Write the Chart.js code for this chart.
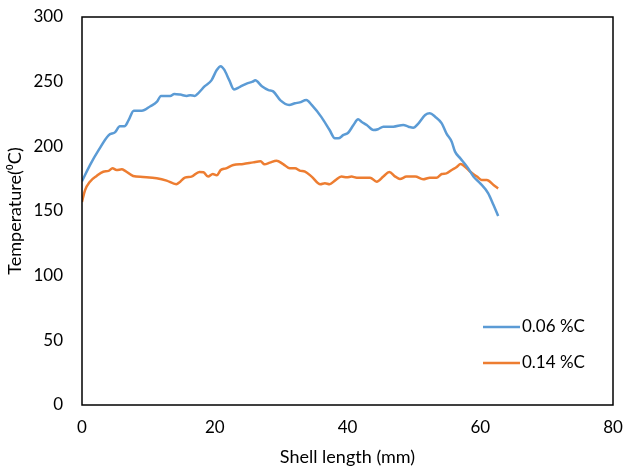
<!DOCTYPE html>
<html>
<head>
<meta charset="utf-8">
<script src="https://cdn.jsdelivr.net/npm/chart.js@4"></script>
<style>
  html, body { margin: 0; padding: 0; background: #fff; }
  #wrap { width: 627px; height: 472px; position: relative; }
</style>
</head>
<body>
<div id="wrap"><canvas id="myChart"></canvas></div>
<script>
// shell length (mm) and temperature (degC)
const lowCarbonX = [0, 1.2, 2.5, 4.0, 5.0, 5.7, 6.4, 7.0, 7.8, 9.0, 10.3, 11.3, 11.9, 13.3, 13.9, 14.8, 15.8, 16.3, 17.0, 17.5,
  18.5, 19.5, 20.3, 20.9, 21.4, 22.2, 22.9, 23.8, 24.8, 25.7, 26.1, 27.1, 28.1, 28.8, 29.9, 31.2, 32.1, 32.8, 33.8, 34.6,
  36.1, 37.3, 38.1, 38.6, 39.4, 40.1, 40.9, 41.6, 42.1, 42.9, 43.9, 44.6, 45.4, 46.9, 48.4, 49.2, 49.9, 50.7, 51.7, 52.4,
  53.2, 54.2, 54.9, 55.7, 56.2, 57.0, 58.0, 59.0, 60.0, 61.2, 62.0, 62.7]
const lowCarbonT = [173, 185.5, 197, 208.5, 211, 215.5, 215.5, 220, 227.5, 227.5, 231, 234.5, 239, 239, 240.5, 240, 239, 239.5, 239, 241,
  246.5, 251, 259, 262, 259.5, 251, 244, 246, 248.5, 250, 251, 246.5, 243.5, 242.5, 235.5, 232, 233.3, 234, 235.8, 232,
  222.4, 212.6, 206.2, 206.2, 208.8, 210.5, 216.5, 220.9, 219, 216.5, 212.6, 213.2, 215.2, 215.2, 216.5, 215.2, 214.4, 217.8, 224.2, 225.5,
  222.9, 217.8, 210, 203.6, 195.9, 190.7, 184.3, 176.5, 171.4, 163.7, 154.6, 146.1]

const highCarbonX = [0, 0.45, 1.2, 2.2, 3.2, 4.0, 4.6, 5.2, 6.0, 6.5, 7.7, 9.2, 11.25, 12.75, 14.2, 14.8, 15.5, 16.5, 17.7, 18.3,
  19.0, 19.7, 20.3, 20.9, 21.7, 22.8, 24.3, 25.8, 26.9, 27.5, 28.3, 29.3, 30.3, 31.3, 32.1, 32.8, 33.6, 34.6, 35.9, 36.6,
  37.3, 38.1, 39.1, 39.9, 40.6, 41.4, 43.4, 44.4, 45.4, 46.3, 47.2, 47.9, 48.9, 50.2, 51.4, 52.4, 53.4, 54.2, 54.9, 55.7,
  56.4, 57.05, 57.7, 58.5, 59.5, 60.2, 61.0, 62.0, 62.7]
const highCarbonT = [157, 166, 172.7, 177.1, 180.4, 181, 183, 181.7, 182.2, 181, 177.1, 176.3, 175.3, 173.5, 170.7, 172.7, 175.8, 176.6, 180.2, 180,
  176.6, 178.6, 177.6, 181.7, 183, 185.6, 186.3, 187.6, 188.4, 186.1, 187.4, 188.9, 186.3, 183, 183, 181.2, 180.4, 176.6, 170.7, 171.4,
  170.7, 173.5, 176.6, 176.1, 176.6, 175.8, 175.8, 172.7, 176.6, 180.2, 176.6, 174.7, 176.6, 176.6, 174.5, 175.8, 175.8, 178.6, 179.1, 181.7,
  183.8, 186.3, 184.3, 180.4, 176.6, 174, 174, 170.1, 167.5]

const seriesLabels = ['0.06 %C', '0.14 %C']
const seriesColors = ['#5B9BD5', '#ED7D31']
const xTitle = 'Shell length (mm)'
const yTitle = 'Temperature(⁰C)'

const FONT = 'Lato, "Open Sans", sans-serif'

function toPoints(xs, ys) {
  return xs.map((x, i) => ({x: x, y: ys[i]}))
}

// box around the plot area + legend inside it
const boxAndLegend = {
  id: 'boxAndLegend',
  afterDraw(chart) {
    const ctx = chart.ctx
    const a = chart.chartArea
    ctx.save()
    ctx.strokeStyle = '#000'
    ctx.lineWidth = 1.5
    ctx.strokeRect(a.left, a.top, a.right - a.left, a.bottom - a.top)

    ctx.font = '17px ' + FONT
    ctx.textBaseline = 'middle'
    ctx.fillStyle = '#000'
    chart.data.datasets.forEach((ds, i) => {
      const y = 327 + i * 36
      ctx.strokeStyle = ds.borderColor
      ctx.lineWidth = 2.5
      ctx.beginPath()
      ctx.moveTo(483, y)
      ctx.lineTo(520, y)
      ctx.stroke()
      ctx.fillText(ds.label, 522, y)
    })
    ctx.restore()
  }
}

new Chart(document.getElementById('myChart'), {
  type: 'scatter',
  data: {
    datasets: [
      {label: seriesLabels[0], data: toPoints(lowCarbonX, lowCarbonT), borderColor: seriesColors[0]},
      {label: seriesLabels[1], data: toPoints(highCarbonX, highCarbonT), borderColor: seriesColors[1]},
    ].map(d => Object.assign(d, {
      showLine: true, borderWidth: 2.5, pointRadius: 0, cubicInterpolationMode: 'monotone', fill: false
    }))
  },
  options: {
    responsive: true,
    maintainAspectRatio: false,
    animation: false,
    layout: {padding: {top: 17, right: 14, left: 0, bottom: 0}},
    plugins: {legend: {display: false}, tooltip: {enabled: false}},
    scales: {
      x: {
        type: 'linear', min: 0, max: 80,
        ticks: {stepSize: 20, color: '#000', font: {family: FONT, size: 17}, padding: 12},
        grid: {display: false, drawTicks: false},
        border: {display: false},
        title: {display: true, text: xTitle, color: '#000', font: {family: FONT, size: 18}, padding: {top: 2}},
        afterFit(scale) { scale.height = 67; scale.paddingLeft = 0; scale.paddingRight = 0 }
      },
      y: {
        min: 0, max: 300,
        ticks: {stepSize: 50, color: '#000', font: {family: FONT, size: 17}, padding: 19},
        grid: {display: false, drawTicks: false},
        border: {display: false},
        title: {display: true, text: yTitle, color: '#000', font: {family: FONT, size: 18}, padding: {bottom: 0}},
        afterFit(scale) { scale.width = 82; scale.paddingTop = 0; scale.paddingBottom = 0 }
      }
    }
  },
  plugins: [boxAndLegend]
})
</script>
</body>
</html>
